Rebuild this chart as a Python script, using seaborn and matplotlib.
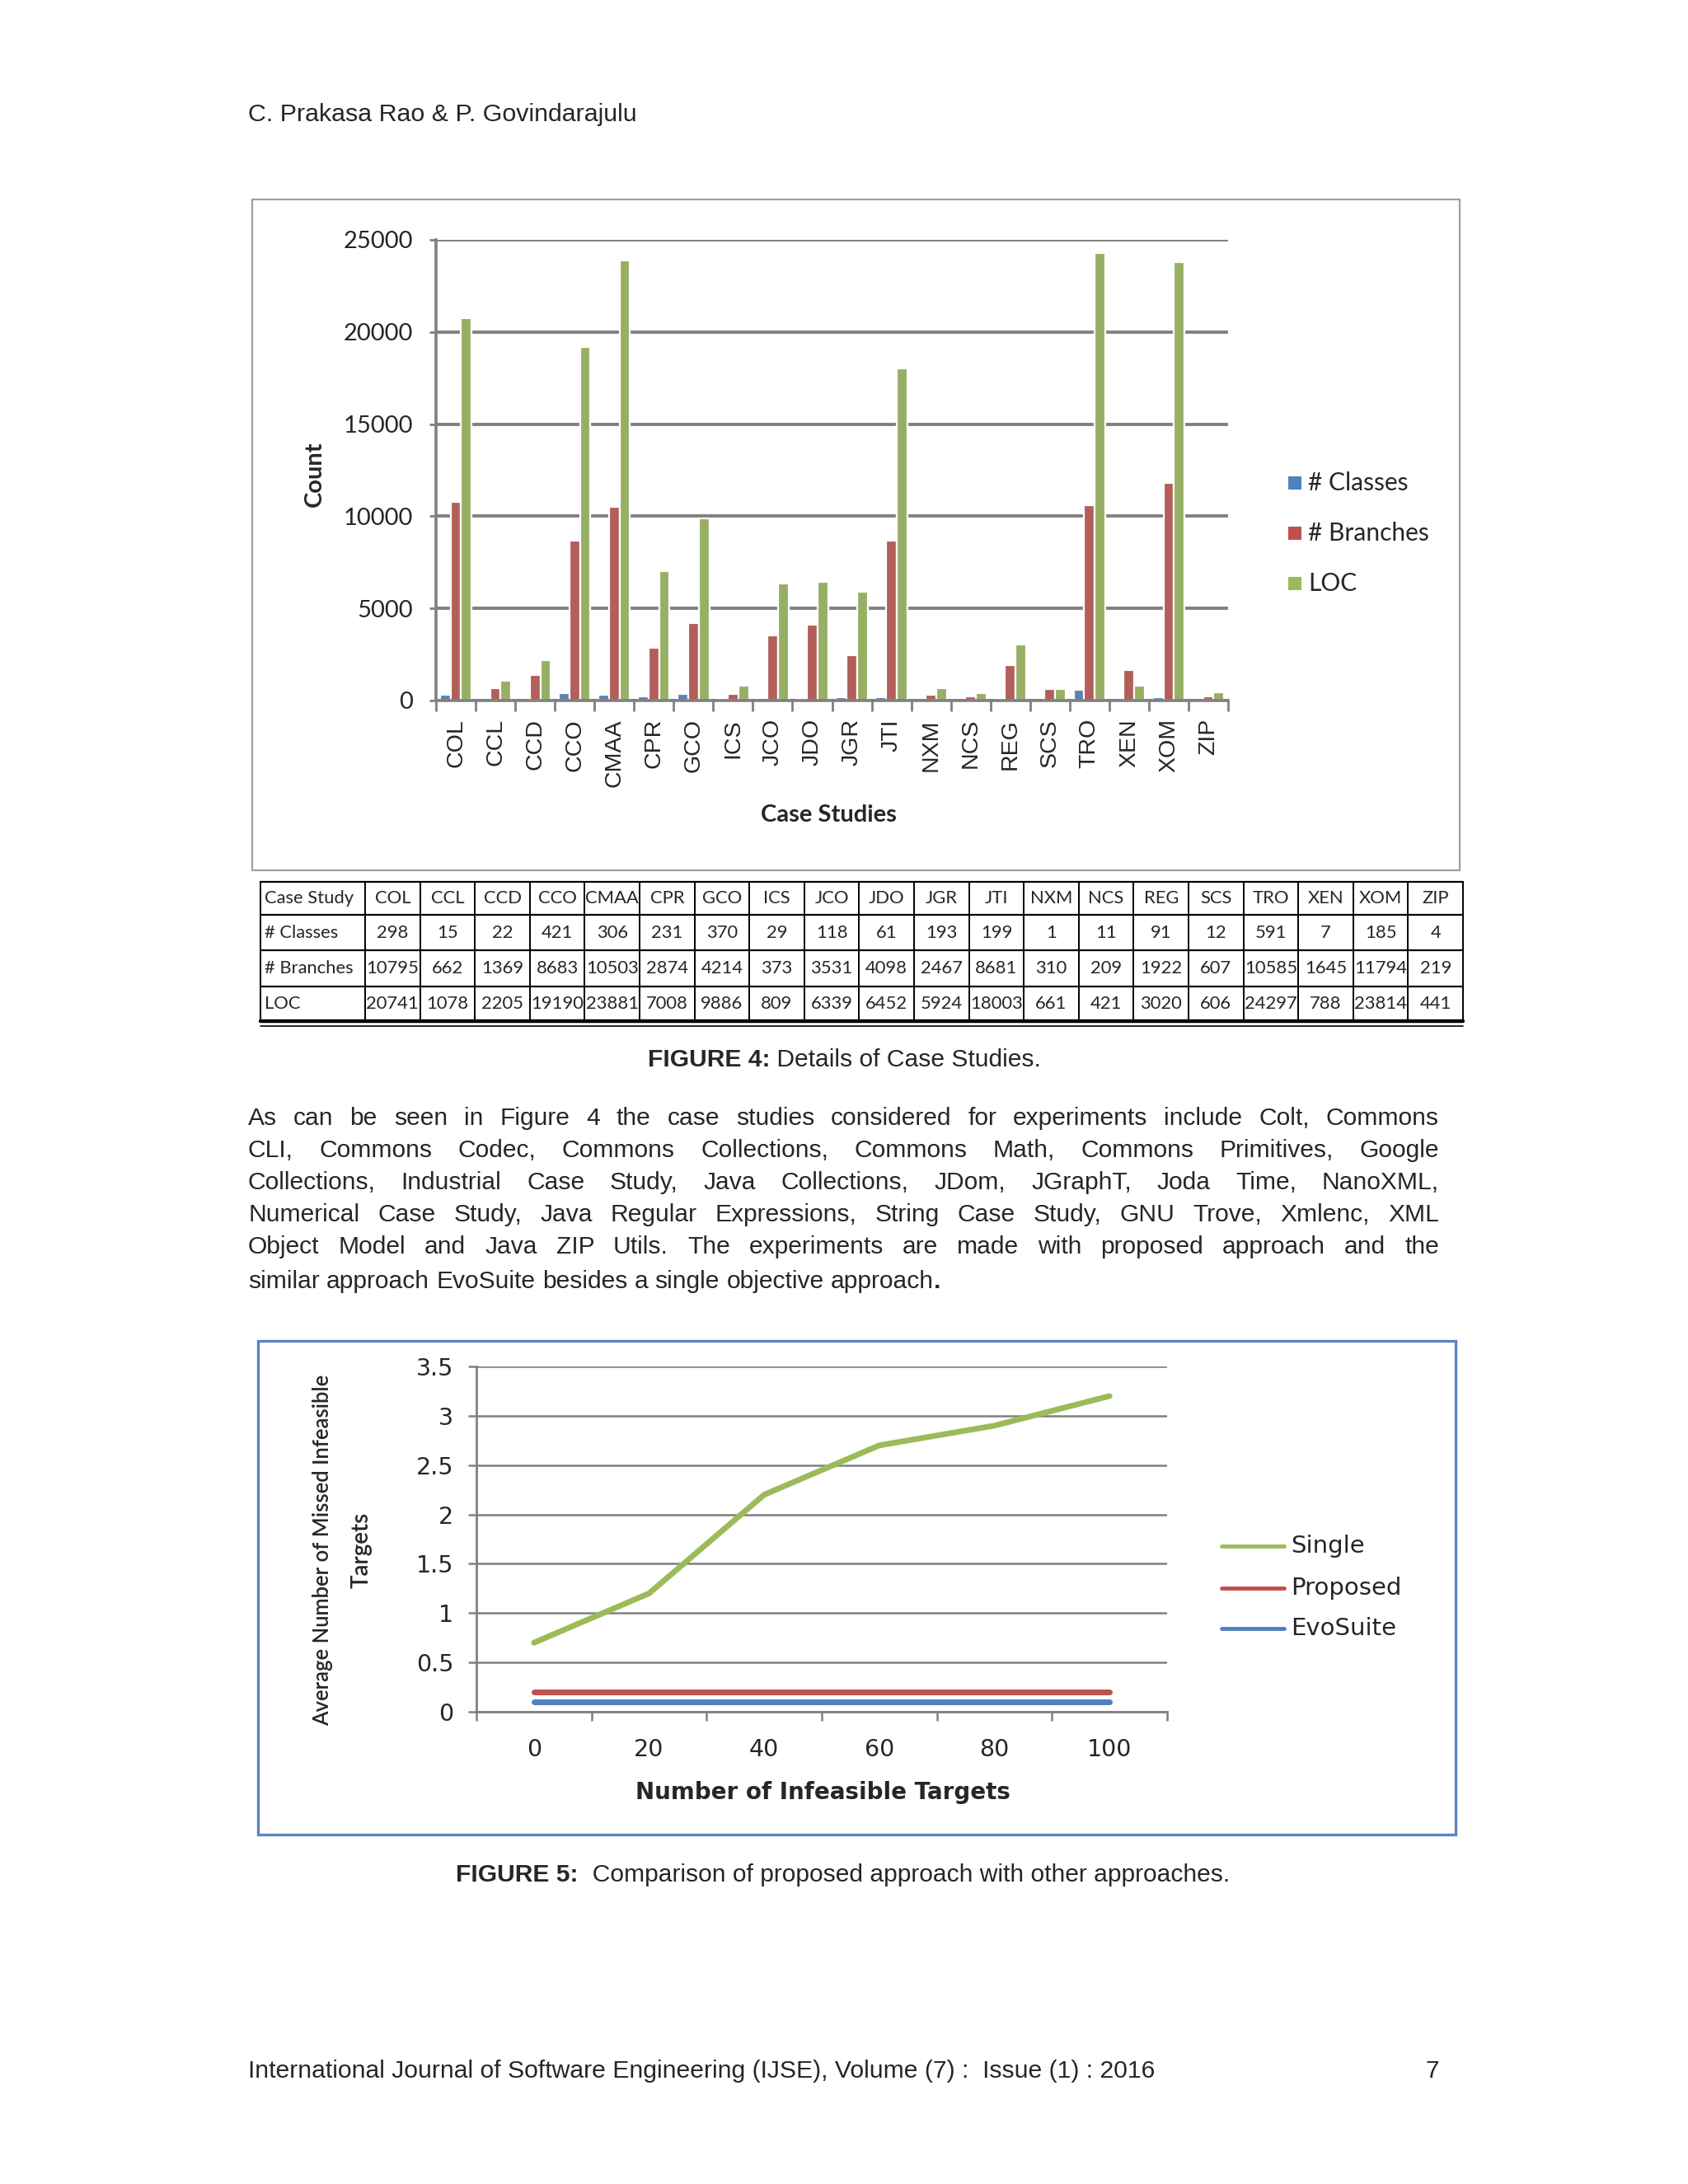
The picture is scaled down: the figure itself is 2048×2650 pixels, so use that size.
import numpy as np
import pandas as pd
import matplotlib
matplotlib.use("Agg")
import matplotlib.pyplot as plt
import matplotlib.font_manager as fm
import matplotlib.colors as mc
import seaborn as sns
from matplotlib.patches import Rectangle
from matplotlib.lines import Line2D

# ---------------- data ----------------
cases = ["COL", "CCL", "CCD", "CCO", "CMAA", "CPR", "GCO", "ICS", "JCO", "JDO",
         "JGR", "JTI", "NXM", "NCS", "REG", "SCS", "TRO", "XEN", "XOM", "ZIP"]
classes = [298, 15, 22, 421, 306, 231, 370, 29, 118, 61, 193, 199, 1, 11, 91, 12, 591, 7, 185, 4]
branches = [10795, 662, 1369, 8683, 10503, 2874, 4214, 373, 3531, 4098, 2467, 8681, 310, 209,
            1922, 607, 10585, 1645, 11794, 219]
loc = [20741, 1078, 2205, 19190, 23881, 7008, 9886, 809, 6339, 6452, 5924, 18003, 661, 421,
       3020, 606, 24297, 788, 23814, 441]
metric_names = ["# Classes", "# Branches", "LOC"]
count_ticks = [0, 5000, 10000, 15000, 20000, 25000]

targets = [0, 20, 40, 60, 80, 100]
single = [0.7, 1.2, 2.2, 2.7, 2.9, 3.2]
proposed = [0.2, 0.2, 0.2, 0.2, 0.2, 0.2]
evosuite = [0.1, 0.1, 0.1, 0.1, 0.1, 0.1]
approach_names = ["Single", "Proposed", "EvoSuite"]
missed_ticks = [0, 0.5, 1, 1.5, 2, 2.5, 3, 3.5]
missed_tick_labels = ["0", "0.5", "1", "1.5", "2", "2.5", "3", "3.5"]

header_text = "C. Prakasa Rao & P. Govindarajulu"
caption4_bold = "FIGURE 4:"
caption4_rest = " Details of Case Studies."
caption5_bold = "FIGURE 5:"
caption5_rest = "  Comparison of proposed approach with other approaches."
paragraph_lines = [
    "As can be seen in Figure 4 the case studies considered for experiments include Colt, Commons",
    "CLI, Commons Codec, Commons Collections, Commons Math, Commons Primitives, Google",
    "Collections, Industrial Case Study, Java Collections, JDom, JGraphT, Joda Time, NanoXML,",
    "Numerical Case Study, Java Regular Expressions, String Case Study, GNU Trove, Xmlenc, XML",
    "Object Model and Java ZIP Utils. The experiments are made with proposed approach and the",
    "similar approach EvoSuite besides a single objective approach",
]
footer_text = "International Journal of Software Engineering (IJSE), Volume (7) :  Issue (1) : 2016"
page_number = "7"

# ---------------- style ----------------
sns.set_theme(style="white")
plt.rcParams["font.family"] = ["Liberation Sans", "DejaVu Sans"]
names = {f.name for f in fm.fontManager.ttflist}
CAL = "Lato" if "Lato" in names else "DejaVu Sans"

BLUE, RED, GREEN = "#4F81BD", "#C0504D", "#9BBB59"
GRID = "#808080"

W, H = 2048, 2650
fig = plt.figure(figsize=(W / 100, H / 100), dpi=100)
fig.patch.set_facecolor("white")

# page overlay in pixel coordinates
pg = fig.add_axes([0, 0, 1, 1])
pg.set_xlim(0, W)
pg.set_ylim(H, 0)
pg.axis("off")
R = fig.canvas.get_renderer()

BODY = 21.6


def twidth(t):
    return t.get_window_extent(renderer=R).width


def fit(t, target, vertical=False):
    bb = t.get_window_extent(renderer=R)
    cur = bb.height if vertical else bb.width
    t.set_fontsize(t.get_fontsize() * target / cur)
    return t


# header / footer
fit(pg.text(301, 139, header_text, fontsize=BODY, ha="left", va="center"), 473)
fit(pg.text(301, 2513, footer_text, fontsize=BODY, ha="left", va="center"), 1102)
pg.text(1746, 2513, page_number, fontsize=BODY, ha="right", va="center")


# captions
def caption(x, y, b, rest):
    t = pg.text(x, y, b, fontsize=BODY, fontweight="bold", ha="left", va="center")
    pg.text(x + twidth(t), y, rest, fontsize=BODY, ha="left", va="center")


caption(786, 1286, caption4_bold, caption4_rest)
caption(553, 2275, caption5_bold, caption5_rest)

# justified paragraph
para_y = [1357, 1396, 1435, 1474, 1513, 1555]
X0, X1 = 301, 1746
for i, (line, y) in enumerate(zip(paragraph_lines, para_y)):
    words = line.split(" ")
    ts = [pg.text(0, y, w, fontsize=BODY, ha="left", va="center") for w in words]
    ws = [twidth(t) for t in ts]
    last = i == len(paragraph_lines) - 1
    if last:
        gap = BODY * 1.389 * 0.278
    else:
        gap = (X1 - X0 - sum(ws)) / (len(words) - 1)
    x = X0
    for t, w in zip(ts, ws):
        t.set_x(x)
        x += w + gap
    if last:
        pg.text(x - gap, y, ".", fontsize=BODY, fontweight="bold", ha="left", va="center")

# chart boxes
pg.add_patch(Rectangle((306, 242), 1465, 814, fill=False, ec="#a0a0a0", lw=1.6))
pg.add_patch(Rectangle((313, 1627), 1453, 599, fill=False, ec="#5b86c0", lw=2.4))

# ---------------- chart 1 : grouped bars ----------------
df1 = pd.DataFrame({
    "Case Study": cases * 3,
    "Metric": [metric_names[0]] * len(cases) + [metric_names[1]] * len(cases) + [metric_names[2]] * len(cases),
    "Count": classes + branches + loc,
})
ax1 = fig.add_axes([529 / W, 1 - 850 / H, (1490 - 529) / W, (850 - 291) / H])
sns.barplot(data=df1, x="Case Study", y="Count", hue="Metric", order=cases, hue_order=metric_names,
            palette=[BLUE, RED, GREEN], width=0.8, errorbar=None, legend=False, ax=ax1,
            linewidth=1.6)
darker = {mc.to_hex(BLUE): "#34608f", mc.to_hex(RED): "#8f3431", mc.to_hex(GREEN): "#6f8c38"}
for p in ax1.patches:
    fc = mc.to_hex(p.get_facecolor())
    if fc in darker:
        p.set_edgecolor(darker[fc])
ax1.set_xlim(-0.5, len(cases) - 0.5)
ax1.set_ylim(0, 25000)
ax1.set_yticks(count_ticks)
ax1.set_yticklabels([str(v) for v in count_ticks], fontsize=21, family=CAL)
ax1.set_xticks(range(len(cases)))
ax1.set_xticklabels(cases, rotation=90, fontsize=20.5, family="Liberation Sans")
ax1.set_xticks(np.arange(-0.5, len(cases), 1), minor=True)
ax1.tick_params(axis="x", which="major", length=0, pad=16)
ax1.tick_params(axis="x", which="minor", length=9, width=2, color=GRID, bottom=True)
ax1.tick_params(axis="y", which="major", length=6, width=2, color=GRID, left=True, pad=14)
ax1.yaxis.grid(True, color=GRID, lw=2.8)
ax1.set_axisbelow(True)
for s in ["top", "right"]:
    ax1.spines[s].set_visible(False)
for s in ["left", "bottom"]:
    ax1.spines[s].set_color(GRID)
    ax1.spines[s].set_linewidth(2.6)
ax1.set_xlabel("")
ax1.set_ylabel("")
ax1.set_facecolor("none")

pg.text(382, 575, "Count", fontsize=21, family=CAL, fontweight="bold", rotation=90,
        ha="center", va="center")
pg.text(1005, 989, "Case Studies", fontsize=21, family=CAL, fontweight="bold",
        ha="center", va="center")

for name, col, y in zip(metric_names, [BLUE, RED, GREEN], [586, 647, 708]):
    pg.add_patch(Rectangle((1563, y - 8), 16, 16, fc=col, ec="none"))
    pg.text(1587, y, name, fontsize=21.5, family=CAL, ha="left", va="center")

# ---------------- table ----------------
tx0, tx1 = 316, 1775
col_w = (tx1 - 443) / len(cases)
row_edges = [1070, 1110, 1153, 1197, 1239]
rows = [("Case Study", cases), ("# Classes", classes), ("# Branches", branches), ("LOC", loc)]
TF = 15.8
for r, (lab, vals) in enumerate(rows):
    yc = (row_edges[r] + row_edges[r + 1]) / 2
    pg.text(tx0 + 5, yc, lab, fontsize=TF, family=CAL, ha="left", va="center")
    for c, v in enumerate(vals):
        xc = 443 + col_w * (c + 0.5)
        pg.text(xc, yc, str(v), fontsize=TF, family=CAL, ha="center", va="center")
for yv in row_edges[:-1]:
    pg.plot([tx0, tx1], [yv, yv], color="black", lw=1.6)
pg.plot([tx0, tx1], [row_edges[-1], row_edges[-1]], color="black", lw=3.2)
pg.plot([tx0, tx1], [row_edges[-1] + 6, row_edges[-1] + 6], color="black", lw=1.2)
pg.plot([tx0, tx0], [row_edges[0], row_edges[-1]], color="black", lw=1.4)
for c in range(len(cases) + 1):
    xv = 443 + col_w * c
    pg.plot([xv, xv], [row_edges[0], row_edges[-1]], color="black", lw=1.4)

# ---------------- chart 2 : lines ----------------
df2 = pd.DataFrame({
    "Targets": targets * 3,
    "Approach": [approach_names[0]] * 6 + [approach_names[1]] * 6 + [approach_names[2]] * 6,
    "Missed": single + proposed + evosuite,
})
ax2 = fig.add_axes([578 / W, 1 - 2077 / H, (1416 - 578) / W, (2077 - 1658) / H])
sns.lineplot(data=df2, x="Targets", y="Missed", hue="Approach", hue_order=approach_names,
             palette=[GREEN, RED, BLUE], linewidth=5, legend=False, ax=ax2, errorbar=None)
ax2.set_xlim(-10, 110)
ax2.set_ylim(0, 3.5)
ax2.set_yticks(missed_ticks)
ax2.set_yticklabels(missed_tick_labels, fontsize=20.5, family="DejaVu Sans")
ax2.set_xticks(targets)
ax2.set_xticklabels([str(v) for v in targets], fontsize=20.5, family="DejaVu Sans")
ax2.set_xticks(np.arange(-10, 111, 20), minor=True)
ax2.tick_params(axis="x", which="major", length=0, pad=23)
ax2.tick_params(axis="x", which="minor", length=8, width=1.8, color=GRID, bottom=True)
ax2.tick_params(axis="y", which="major", length=7, width=1.8, color=GRID, left=True, pad=13)
ax2.yaxis.grid(True, color=GRID, lw=1.8)
ax2.set_axisbelow(True)
for s in ["top", "right"]:
    ax2.spines[s].set_visible(False)
for s in ["left", "bottom"]:
    ax2.spines[s].set_color(GRID)
    ax2.spines[s].set_linewidth(2)
ax2.set_xlabel("")
ax2.set_ylabel("")
ax2.set_facecolor("none")

pg.text(998, 2175, "Number of Infeasible Targets", fontsize=20, family="DejaVu Sans",
        fontweight="bold", ha="center", va="center")
fit(pg.text(392, 1881, "Average Number of Missed Infeasible", fontsize=20, family=CAL,
            fontweight="semibold", rotation=90, ha="center", va="center"), 426, vertical=True)
pg.text(439, 1881, "Targets", fontsize=20, family=CAL, fontweight="semibold", rotation=90,
        ha="center", va="center")

for name, col, y in zip(approach_names, [GREEN, RED, BLUE], [1876, 1927, 1976]):
    pg.add_line(Line2D([1482, 1558], [y, y], color=col, lw=3.5))
    pg.text(1566, y, name, fontsize=21, family="DejaVu Sans", ha="left", va="center")

fig.savefig("out.png", dpi=100)
